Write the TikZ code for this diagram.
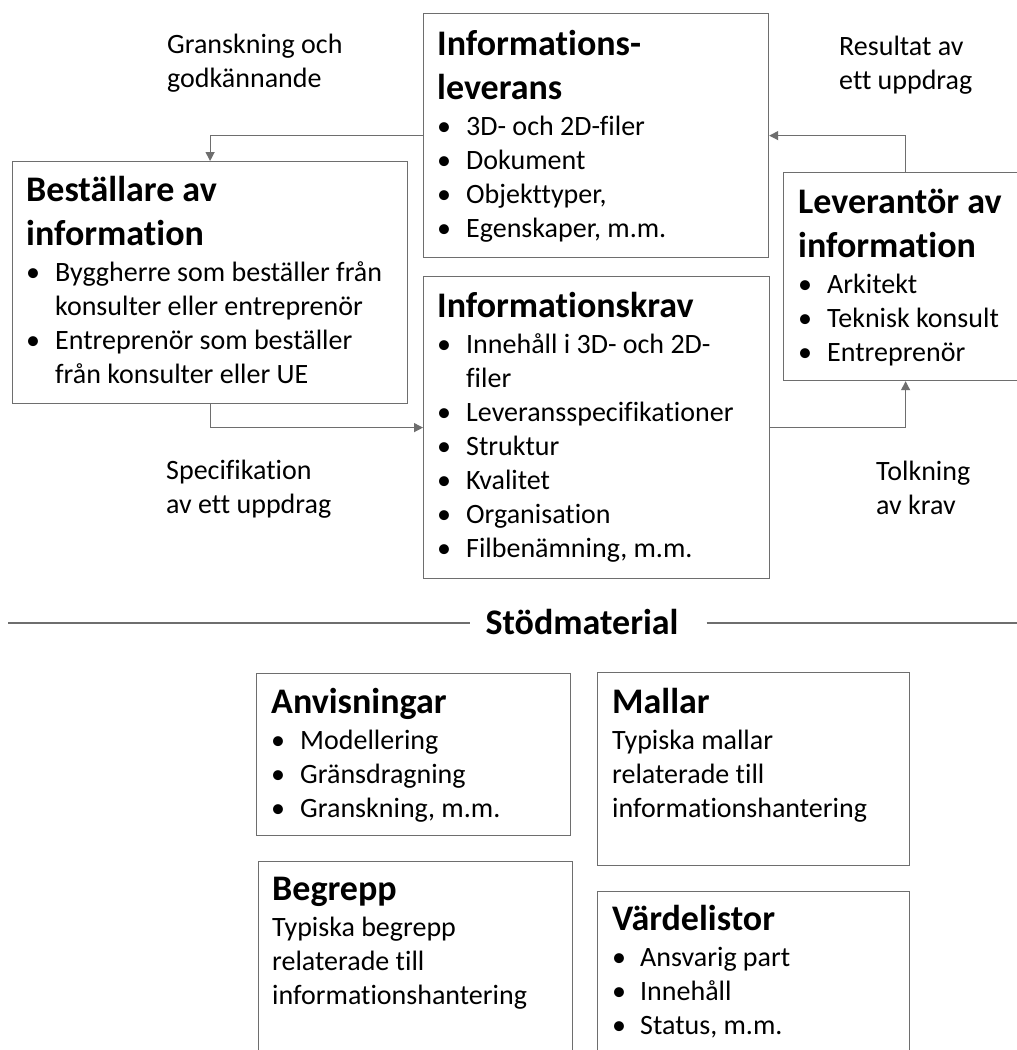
\documentclass[tikz,border=0pt]{standalone}
\usepackage{fontspec}
\setmainfont{Carlito}[Ligatures={NoCommon}]
\usetikzlibrary{arrows.meta,calc}
\definecolor{lc}{HTML}{6E6E6E}
\newcommand\ttl[1]{{\fontsize{36}{44}\selectfont\bfseries #1\par}\vspace{2pt}}
\newcommand\bul[2][29pt]{\hangindent=#1\hangafter=1\noindent\makebox[#1][l]{\textbullet}#2\par}
\begin{document}
\begin{tikzpicture}[x=1pt,y=-1pt,
  box/.style={draw=lc,line width=1.2pt,anchor=north west,inner sep=0pt},
  txt/.style={anchor=base west,inner sep=0pt,text width=#1,align=flush left,font=\fontsize{28}{34}\selectfont},
  arr/.style={draw=lc,line width=1.2pt,-{Triangle[length=9pt,width=9pt]}},
  sep/.style={draw=lc,line width=1.2pt},
]
\clip (0,0) rectangle (1017,1050);
\fill[white] (0,0) rectangle (1017,1050);

% boxes
\node[box,minimum width=345pt,minimum height=244pt] (lev) at (423,13) {};
\node[box,minimum width=395pt,minimum height=242pt] (best) at (12,161) {};
\node[box,minimum width=346pt,minimum height=302pt] (krav) at (423,276) {};
\node[box,minimum width=244pt,minimum height=208pt] (levr) at (783,172) {};
\node[box,minimum width=314pt,minimum height=162pt] (anv) at (256,673) {};
\node[box,minimum width=312pt,minimum height=193pt] (mal) at (597,672) {};
\node[box,minimum width=314pt,minimum height=220pt] (beg) at (258,861) {};
\node[box,minimum width=312pt,minimum height=200pt] (vrd) at (597,891) {};

% box contents
\node[txt=325pt] (levT) at ($(lev.north west)+(14,42)$) {%
  \ttl{Informations-\newline leverans}
  \bul{3D- och 2D-filer}
  \bul{Dokument}
  \bul{Objekttyper,}
  \bul{Egenskaper, m.m.}};
\node[txt=375pt] (bestT) at ($(best.north west)+(14,40)$) {%
  \ttl{Beställare av\newline information}
  \bul{Byggherre som beställer från\newline konsulter eller entreprenör}
  \bul{Entreprenör som beställer\newline från konsulter eller UE}};
\node[txt=328pt] (kravT) at ($(krav.north west)+(14,41)$) {%
  \ttl{Informationskrav}
  \bul{Innehåll i 3D- och 2D-\newline filer}
  \bul{Leveransspecifikationer}
  \bul{Struktur}
  \bul{Kvalitet}
  \bul{Organisation}
  \bul{Filbenämning, m.m.}};
\node[txt=228pt] (levrT) at ($(levr.north west)+(15,41)$) {%
  \ttl{Leverantör av\newline information}
  \bul{Arkitekt}
  \bul{Teknisk konsult}
  \bul{Entreprenör}};
\node[txt=295pt] (anvT) at ($(anv.north west)+(15,40)$) {%
  \ttl{Anvisningar}
  \bul{Modellering}
  \bul{Gränsdragning}
  \bul{Granskning, m.m.}};
\node[txt=293pt] (malT) at ($(mal.north west)+(15,41)$) {%
  \ttl{Mallar}
  Typiska mallar\newline relaterade till\newline informationshantering};
\node[txt=295pt] (begT) at ($(beg.north west)+(14,39)$) {%
  \ttl{Begrepp}
  Typiska begrepp\newline relaterade till\newline informationshantering};
\node[txt=293pt] (vrdT) at ($(vrd.north west)+(15,39)$) {%
  \ttl{Värdelistor}
  \bul[28pt]{Ansvarig part}
  \bul[28pt]{Innehåll}
  \bul[28pt]{Status, m.m.}};

% connector labels
\node[txt=200pt] (lab1) at (167,53) {Granskning och\newline godkännande};
\node[txt=170pt] (lab2) at (839,55) {Resultat av\newline ett uppdrag};
\node[txt=200pt] (lab3) at (166,479) {Specifikation\newline av ett uppdrag};
\node[txt=130pt] (lab4) at (876,480) {Tolkning\newline av krav};

% connectors
\draw[arr] (lev.west) -| (best.north);
\draw[arr] (best.south) |- (krav.west);
\draw[arr] (krav.east) -| (levr.south);
\draw[arr] (levr.north) |- (lev.east);

% separator
\node[anchor=base,inner sep=0pt,font=\fontsize{36}{44}\selectfont\bfseries] (stod) at (582,634) {Stödmaterial};
\coordinate (sepL) at (8,623);
\coordinate (sepR) at (1017,623);
\draw[sep] (sepL) -- ([xshift=-15pt]sepL -| stod.west);
\draw[sep] ([xshift=28pt]sepR -| stod.east) -- (sepR);
\end{tikzpicture}
\end{document}
